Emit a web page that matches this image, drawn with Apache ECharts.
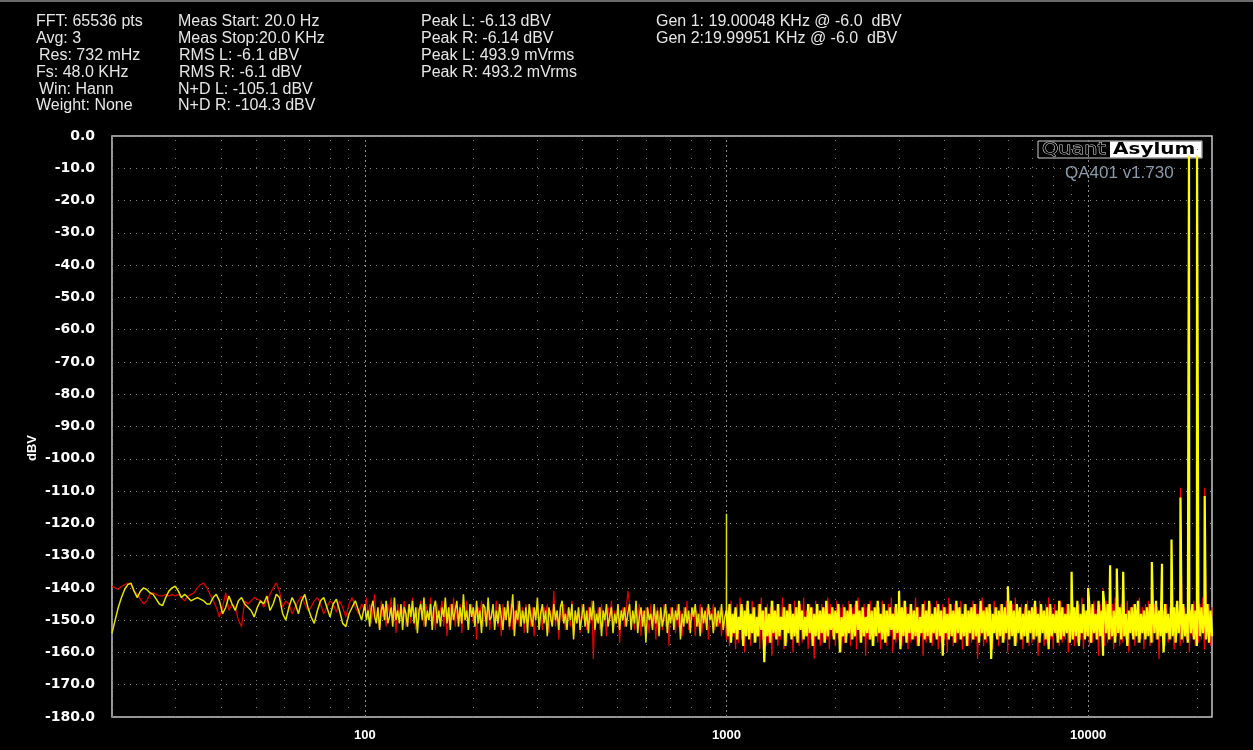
<!DOCTYPE html>
<html>
<head>
<meta charset="utf-8">
<title>QA401 FFT</title>
<script src="https://cdn.jsdelivr.net/npm/echarts@6.0.0/dist/echarts.min.js"></script>
<style>
  html, body { margin: 0; padding: 0; background: #000; }
  #chart { width: 1253px; height: 750px; }
</style>
</head>
<body>
<div id="chart"></div>
<script>
// noise floor, dBV, band by band
// 20 - 100 Hz
var yellowLow = [
  -154,-150,-146,-143,-140.5,-139,-138.5,-141,-143,-141,
  -140,-140.5,-141.5,-142,-143.5,-145,-145.5,-143,-141,-140,
  -139.5,-141,-143,-142,-143,-144,-143.5,-143,-143.5,-144,
  -145,-145,-143,-142,-144,-148,-146,-142.5,-145,-147,
  -144,-143,-145,-146,-147,-149,-146,-144,-145,-142.5,
  -147,-145,-142,-143,-148,-150,-146,-143,-145,-148,
  -144,-142,-146,-149,-151,-147,-144,-143,-146,-149,
  -145,-143.5,-147,-151,-152,-148,-146,-144,-147,-150
];
var redLow = [
  -139.5,-140,-140.5,-139.5,-139,-138.5,-139,-141,-142,-143.5,
  -145,-144,-142,-141.5,-142,-142.5,-142.5,-142,-142.5,-142,
  -142.5,-142,-143,-144,-142.5,-142,-141.5,-140,-139,-138.5,
  -140,-142,-144,-146,-149,-146,-141.5,-147,-145,-146,
  -150,-152,-144,-145,-144,-143,-143.5,-144,-146,-144,
  -142,-140,-138.5,-141,-146,-144,-145,-148,-146,-144,
  -142.5,-145,-147,-146,-144,-143,-145,-148,-146,-144,
  -145,-147.5,-144,-146,-149,-145,-143,-146,-148,-145
];
// 100 - 1000 Hz
var yellowMid = [
  -145,-150,-147,-152,-146,-144,-149,-151,-146,-153,-147,-145,-150,-144,-151,-149,-146,-152,-143,-150,
  -147,-151,-145,-153,-146,-148,-152,-145,-149,-144,-151,-146,-154,-147,-145,-150,-143,-152,-147,-150,
  -145,-153,-146,-144,-151,-147,-152,-146,-149,-143,-151,-146,-153,-145,-150,-147,-144,-152,-146,-151,
  -142,-150,-147,-153,-145,-149,-146,-152,-144,-151,-147,-154,-145,-146,-152,-143,-150,-149,-145,-153,
  -147,-151,-145,-149,-153,-146,-150,-144,-152,-148,-142,-155,-147,-150,-144,-152,-147,-151,-146,-154,
  -145,-149,-152,-146,-150,-143,-153,-148,-145,-151,-147,-155,-146,-149,-152,-145,-150,-147,-153,-146,
  -144,-151,-148,-153,-146,-150,-145,-156,-147,-151,-146,-153,-149,-145,-152,-147,-154,-146,-150,-144,
  -153,-148,-151,-146,-155,-147,-150,-145,-152,-149,-146,-154,-148,-151,-145,-153,-147,-150,-146,-152,
  -148,-145,-153,-147,-151,-144,-154,-149,-146,-152,-147,-157,-146,-150,-148,-153,-145,-151,-147,-155,
  -146,-152,-149,-145,-154,-148,-151,-146,-153,-147,-150,-145,-156,-148,-152,-146,-151,-147,-154,-146,
  -149,-145,-152,-148,-155,-146,-151,-147,-153,-145,-150,-148,-154,-146,-152,-147,-151,-145,-153,-149
];
var redMid = [
  -147,-143,-149,-145,-151,-146,-142,-150,-147,-153,-144,-149,-146,-152,-145,-148,-143,-151,-147,-154,
  -145,-150,-146,-148,-144,-152,-147,-145,-151,-143,-149,-153,-146,-150,-144,-148,-152,-145,-147,-150,
  -143,-151,-146,-153,-145,-149,-147,-144,-152,-146,-155,-148,-145,-150,-143,-152,-147,-149,-145,-154,
  -146,-150,-144,-153,-148,-145,-151,-147,-156,-146,-149,-144,-152,-147,-150,-145,-153,-148,-146,-151,
  -144,-152,-147,-155,-145,-150,-148,-146,-153,-145,-153,-147,-151,-144,-152,-149,-146,-154,-145,-150,
  -147,-152,-146,-155,-148,-145,-151,-147,-153,-146,-149,-145,-154,-147,-150,-141,-152,-147,-156,-146,
  -150,-145,-153,-148,-146,-152,-144,-155,-147,-151,-146,-154,-145,-150,-148,-153,-146,-151,-144,-162,
  -147,-150,-146,-153,-145,-152,-148,-155,-146,-150,-144,-153,-147,-151,-145,-157,-148,-146,-152,-147,
  -141,-145,-151,-148,-153,-146,-150,-145,-155,-147,-152,-146,-149,-154,-145,-151,-147,-156,-146,-150,
  -148,-153,-145,-152,-147,-158,-146,-150,-148,-154,-145,-152,-147,-155,-146,-151,-144,-153,-148,-150,
  -146,-155,-147,-152,-145,-154,-148,-151,-146,-156,-147,-150,-145,-153,-148,-152,-146,-155,-147,-151
];
// 1 kHz - 22 kHz
var yellowHigh = [
  -147,-155,-145,-157,-148,-154,-146,-156,-149,-153,-145,-158,-147,-155,-144,-156,-148,-154,-146,-157,
  -149,-155,-145,-153,-147,-163,-146,-155,-148,-157,-144,-154,-147,-156,-145,-155,-149,-153,-146,-158,
  -147,-154,-145,-156,-148,-155,-146,-157,-144,-153,-147,-156,-149,-155,-145,-154,-146,-158,-148,-155,
  -145,-156,-147,-154,-146,-157,-144,-155,-148,-153,-146,-156,-147,-154,-145,-160,-149,-155,-146,-157,
  -147,-154,-145,-156,-148,-155,-144,-153,-147,-157,-146,-155,-149,-154,-145,-156,-147,-158,-146,-155,
  -144,-154,-148,-156,-145,-157,-147,-155,-146,-153,-148,-156,-145,-154,-147,-159,-146,-155,-144,-157,
  -148,-154,-145,-156,-147,-155,-146,-158,-149,-154,-145,-156,-147,-155,-144,-157,-148,-154,-146,-156,
  -145,-155,-147,-161,-146,-154,-148,-156,-145,-155,-147,-157,-144,-154,-146,-156,-148,-155,-145,-158,
  -147,-154,-146,-156,-145,-155,-148,-157,-144,-154,-147,-156,-146,-155,-145,-162,-148,-154,-146,-156,
  -147,-155,-145,-157,-146,-154,-148,-156,-144,-155,-147,-158,-145,-154,-146,-156,-148,-155,-145,-157,
  -147,-154,-146,-156,-144,-155,-148,-157,-145,-154,-147,-156,-146,-159,-145,-155,-148,-154,-147,-157,
  -144,-156,-146,-155,-148,-154,-145,-157,-147,-156,-146,-155,-144,-158,-148,-154,-145,-156,-147,-155,
  -146,-157,-145,-154,-148,-156,-144,-155,-147,-161,-146,-154,-145,-156,-148,-155,-147,-157,-144,-154,
  -146,-156,-145,-155,-148,-158,-147,-154,-146,-156,-145,-155,-144,-157,-148,-154,-147,-156,-146,-155,
  -145,-157,-148,-154,-144,-156,-147,-155,-146,-160,-145,-154,-148,-156,-147,-155,-146,-157,-144,-154,
  -147,-156,-145,-155,-148,-157,-146,-154,-145,-156,-147,-158,-144,-155,-146,-154,-148,-156,-145,-157,
  -147,-155
];
var redHigh = [
  -156,-146,-158,-144,-155,-147,-159,-145,-157,-143,-156,-146,-160,-145,-155,-147,-158,-144,-157,-146,
  -155,-145,-159,-143,-156,-147,-158,-145,-157,-146,-161,-144,-155,-147,-158,-145,-156,-143,-159,-146,
  -157,-145,-155,-147,-160,-144,-156,-146,-158,-145,-157,-143,-155,-147,-159,-145,-156,-146,-162,-144,
  -155,-147,-158,-145,-157,-146,-156,-143,-159,-145,-155,-147,-158,-144,-156,-146,-160,-145,-157,-147,
  -155,-144,-158,-146,-156,-145,-159,-143,-157,-147,-155,-145,-161,-146,-156,-144,-158,-147,-155,-145,
  -157,-146,-159,-144,-156,-147,-158,-145,-155,-143,-160,-146,-157,-145,-156,-147,-158,-144,-155,-146,
  -159,-145,-157,-147,-156,-143,-158,-146,-155,-145,-161,-144,-157,-147,-156,-145,-158,-146,-155,-144,
  -159,-147,-157,-145,-156,-146,-160,-143,-155,-147,-158,-145,-157,-146,-156,-144,-159,-145,-155,-147,
  -158,-146,-157,-144,-156,-145,-162,-147,-155,-143,-158,-146,-157,-145,-156,-147,-159,-144,-155,-146,
  -158,-145,-157,-147,-156,-144,-160,-146,-155,-145,-158,-143,-157,-147,-156,-145,-159,-146,-155,-144,
  -158,-147,-157,-145,-156,-146,-161,-144,-155,-147,-158,-145,-157,-143,-156,-146,-159,-145,-155,-147,
  -158,-144,-157,-146,-156,-145,-160,-147,-155,-144,-158,-146,-157,-145,-156,-143,-159,-147,-155,-145,
  -158,-146,-157,-144,-156,-147,-161,-145,-155,-146,-158,-144,-157,-147,-156,-145,-159,-143,-155,-146,
  -158,-145,-157,-147,-156,-144,-160,-146,-155,-145,-158,-147,-157,-143,-156,-146,-159,-145,-155,-144,
  -158,-147,-157,-145,-156,-146,-162,-144,-155,-147,-158,-145,-157,-146,-156,-143,-159,-145,-155,-147,
  -158,-144,-157,-146,-156,-145,-160,-147,-155,-144,-158,-146,-157,-145,-156,-143,-159,-146,-155,-145,
  -158,-146
];

// tones, IMD products and spurs
var spikeFreqs  = [1000, 3000, 6000, 9000, 10000, 11000, 11500, 12000, 12500, 15000, 16000, 17000, 18000, 19000, 20000, 21000];
var spikeYellow = [-117, -141, -139.5, -135, -140, -141, -133, -134, -135, -132, -132.5, -125, -112, -6.1, -6.1, -111.5];
var spikeRed    = [-137, -145, -146, -145, -145, -140, -145, -144, -144, -145, -145, -143, -109, -6.1, -6.1, -109];

var xLabels = [100, 1000, 10000];
var minorFreqs = [20, 30, 40, 50, 60, 70, 80, 90, 200, 300, 400, 500, 600, 700, 800, 900,
                  2000, 3000, 4000, 5000, 6000, 7000, 8000, 9000, 20000];

var info1 = ['FFT: 65536 pts', 'Avg: 3', 'Res: 732 mHz', 'Fs: 48.0 KHz', 'Win: Hann', 'Weight: None'];
var info2 = ['Meas Start: 20.0 Hz', 'Meas Stop:20.0 KHz', 'RMS L: -6.1 dBV', 'RMS R: -6.1 dBV', 'N+D L: -105.1 dBV', 'N+D R: -104.3 dBV'];
var info3 = ['Peak L: -6.13 dBV', 'Peak R: -6.14 dBV', 'Peak L: 493.9 mVrms', 'Peak R: 493.2 mVrms'];
var info4 = ['Gen 1: 19.00048 KHz @ -6.0  dBV', 'Gen 2:19.99951 KHz @ -6.0  dBV'];

// place a band's readings evenly (in log f) across the band
function spread(values, f0, f1, closed) {
    var n = closed ? values.length - 1 : values.length;
    return values.map(function (v, i) {
        return [f0 * Math.pow(f1 / f0, i / n), v];
    });
}
function spikesIn(spikes, test) {
    var out = [];
    spikeFreqs.forEach(function (f, i) { if (test(f)) out.push([f, spikes[i]]); });
    return out;
}
function byFreq(a, b) { return a[0] - b[0]; }

// 20 Hz - 1 kHz part (sparser trace)
function lowPart(low, mid, high, spikes) {
    var hi = spread(high, 1000, 22000, true);
    return spread(low, 20, 100, false)
        .concat(spread(mid, 100, 1000, false))
        .concat([hi[0]])
        .concat(spikesIn(spikes, function (f) { return f <= 1000; }))
        .sort(byFreq);
}
// 1 kHz - 22 kHz part (dense noise band)
function highPart(high, spikes) {
    return spread(high, 1000, 22000, true)
        .concat(spikesIn(spikes, function (f) { return f > 1000; }))
        .sort(byFreq);
}

var chart = echarts.init(document.getElementById('chart'));

var textFont = '16px Arial, "Liberation Sans", sans-serif';
var graphics = [];
function addColumn(lines, x, indent) {
    lines.forEach(function (t, i) {
        graphics.push({
            type: 'text', x: x + (indent[i] || 0), y: 22 + i * 16.8,
            style: { text: t, fill: '#e6e6e6', font: textFont, verticalAlign: 'middle' }
        });
    });
}
addColumn(info1, 36, [0, 0, 3, 0, 3, 0]);
addColumn(info2, 178, [0, 0, 1, 1, 0, 0]);
addColumn(info3, 421, []);
addColumn(info4, 656, []);

// thin frame line along the top edge
graphics.push({
    type: 'rect', shape: { x: 0, y: 0, width: 1253, height: 2 },
    style: { fill: '#6a6a6a' }
});

// axis name
graphics.push({
    type: 'text', x: 32, y: 448, rotation: Math.PI / 2,
    style: { text: 'dBV', fill: '#fff', font: 'bold 13px Arial, "Liberation Sans", sans-serif',
             align: 'center', verticalAlign: 'middle' }
});

// logo
graphics.push({
    type: 'group', x: 1038, y: 141, z: 100,
    children: [
        { type: 'rect', shape: { x: 0, y: 0, width: 164, height: 17 },
          style: { fill: '#000', stroke: '#cfcfcf', lineWidth: 1 } },
        { type: 'text', x: 4, y: 9, scaleX: 1.3,
          style: { text: 'Quant', fill: '#000', stroke: '#d8d8d8', lineWidth: 0.9,
                   font: '16px "DejaVu Sans", sans-serif', verticalAlign: 'middle' } },
        { type: 'rect', shape: { x: 72, y: 0.5, width: 91.5, height: 16 },
          style: { fill: '#fff' } },
        { type: 'text', x: 75, y: 9, scaleX: 1.25,
          style: { text: 'Asylum', fill: '#000', font: 'bold 16px "DejaVu Sans", sans-serif',
                   verticalAlign: 'middle' } }
    ]
});
graphics.push({
    type: 'text', x: 1065, y: 173, z: 100,
    style: { text: 'QA401 v1.730', fill: '#8c9aa8', font: '17px Arial, "Liberation Sans", sans-serif',
             verticalAlign: 'middle' }
});

var gridLines = minorFreqs.map(function (f) {
    return { xAxis: f, lineStyle: { color: '#7a7a7a', type: [1, 8], width: 1 } };
}).concat(xLabels.map(function (f) {
    return { xAxis: f, lineStyle: { color: '#8a8a8a', type: [2, 3], width: 1 } };
}));

function trace(name, data, color, width, z, extra) {
    var s = {
        name: name, type: 'line', z: z, data: data,
        showSymbol: false, symbol: 'none', sampling: null,
        lineStyle: { color: color, width: width }
    };
    return Object.assign(s, extra || {});
}

var option = {
    backgroundColor: '#000',
    animation: false,
    graphic: graphics,
    grid: {
        left: 112, right: 41, top: 136, bottom: 33,
        show: true, backgroundColor: '#000', borderColor: '#c8c8c8', borderWidth: 1.5
    },
    xAxis: {
        type: 'log', logBase: 10, min: 20, max: 22000,
        axisLine: { show: false },
        axisTick: { show: false },
        splitLine: { show: false },
        axisLabel: {
            color: '#fff', fontWeight: 'bold', fontSize: 13, margin: 12,
            fontFamily: 'Arial, "Liberation Sans", sans-serif',
            formatter: function (v) {
                var r = Math.round(v);
                return xLabels.indexOf(r) >= 0 ? String(r) : '';
            }
        }
    },
    yAxis: {
        type: 'value', min: -180, max: 0, interval: 10,
        axisLine: { show: false },
        axisTick: { show: false },
        axisLabel: {
            color: '#fff', fontWeight: 'bold', fontSize: 14, margin: 17,
            fontFamily: '"DejaVu Sans", sans-serif',
            formatter: function (v) { return v.toFixed(1); }
        },
        splitLine: { show: true, lineStyle: { color: '#8a8a8a', type: [1, 5], width: 1 } }
    },
    series: [
        trace('R', lowPart(redLow, redMid, redHigh, spikeRed), '#e00000', 1.2, 2, {
            markLine: {
                silent: true, symbol: 'none', z: 1, animation: false,
                label: { show: false },
                emphasis: { disabled: true },
                data: gridLines
            }
        }),
        trace('R', highPart(redHigh, spikeRed), '#ff0000', 1.2, 2),
        trace('L', lowPart(yellowLow, yellowMid, yellowHigh, spikeYellow), '#e2e200', 1.5, 3),
        trace('L', highPart(yellowHigh, spikeYellow), '#ffff00', 2.2, 3)
    ]
};

chart.setOption(option);
</script>
</body>
</html>
